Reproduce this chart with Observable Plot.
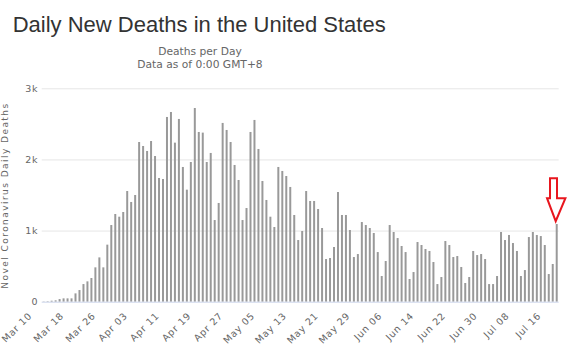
<!DOCTYPE html>
<html><head><meta charset="utf-8">
<script src="https://cdn.jsdelivr.net/npm/d3@7"></script>
<script src="https://cdn.jsdelivr.net/npm/@observablehq/plot@0.6"></script>
<style>
html,body{margin:0;padding:0;background:#fff;}
#wrap{width:568px;height:356px;overflow:hidden;position:relative;}
#head{position:relative;height:75px;}
#title{position:absolute;left:12.7px;top:11.7px;font-family:"Liberation Sans",Arial,sans-serif;font-size:22px;line-height:26px;color:#333333;white-space:nowrap;}
#sub{position:absolute;left:0;width:400px;top:44.6px;text-align:center;font-family:"DejaVu Sans",sans-serif;font-size:10.7px;line-height:13.3px;color:#666666;}
svg{display:block;}
</style></head><body>
<div id="wrap"><div id="head"><div id="title"></div><div id="sub"></div></div><div id="chart"></div></div>
<script>
const titleText = "Daily New Deaths in the United States";
const subtitleLines = ["Deaths per Day", "Data as of 0:00 GMT+8"];
const yTitle = "Novel Coronavirus Daily Deaths";
const startDate = "2020-03-10";
const deaths = [
  4, 7,
  14, 19, 37, 47, 47, 47, 117, 164, 248, 286, 333, 483, 623, 483, 802, 1078, 1233, 1195, 1261, 1556, 1402, 1500,
  2245, 2189, 2119, 2259, 2048, 1739, 1725, 2597, 2667, 2236, 2569, 1894, 1575, 1964, 2723,
  2386, 2377, 1964, 2091, 1148, 1388, 2513, 2414, 2245, 1922, 1711, 1148, 1317, 2386, 2555, 2147, 1697, 1430,
  1195, 1050, 1894, 1838, 1767, 1613, 1219, 867, 994, 1556, 1416, 1416, 1303, 1036, 600, 614, 769, 1542, 1219,
  1219, 1008, 628, 670, 1120, 1078, 1036, 966, 698,
  361, 572, 1078, 980, 895, 783, 698, 319, 417, 839, 797, 741, 713, 558, 248, 347, 853, 797, 628, 642, 488,
  263, 347, 713, 656, 670, 600, 248, 248, 361, 980, 867, 938, 825, 713, 361, 445, 909, 980, 938, 923, 797,
  389, 530, 1092
];
const tickLabels = ["Mar 10", "Mar 18", "Mar 26", "Apr 03", "Apr 11", "Apr 19", "Apr 27", "May 05", "May 13",
  "May 21", "May 29", "Jun 06", "Jun 14", "Jun 22", "Jun 30", "Jul 08", "Jul 16"];
const yTicks = [0, 1000, 2000, 3000];
const yTickLabels = ["0", "1k", "2k", "3k"];

document.getElementById("title").textContent = titleText;
document.getElementById("sub").innerHTML = subtitleLines.map(s => `<div>${s}</div>`).join("");

const fmt = d3.utcFormat("%b %d");
const start = new Date(startDate + "T00:00:00Z");
const days = deaths.map((_, i) => fmt(d3.utcDay.offset(start, i)));
const data = days.map((day, i) => ({day, deaths: deaths[i]}));
const last = data[data.length - 1];

const arrowSymbol = {
  draw(ctx) {
    ctx.moveTo(-5.7, -43);
    ctx.lineTo(1.3, -43);
    ctx.lineTo(1.3, -23);
    ctx.lineTo(9.7, -23);
    ctx.lineTo(0, 0);
    ctx.lineTo(-8.7, -23);
    ctx.lineTo(-5.7, -23);
    ctx.closePath();
  }
};

const chart = Plot.plot({
  width: 568,
  height: 281,
  marginTop: 13.3,
  marginBottom: 54.3,
  marginLeft: 41.7,
  marginRight: 9.3,
  style: {fontFamily: "DejaVu Sans", fontSize: "9.5px", letterSpacing: "0.8px", color: "#666666", background: "white", overflow: "visible"},
  x: {type: "band", domain: days, paddingInner: 0.5, paddingOuter: 0.25},
  y: {domain: [0, 3000]},
  marks: [
    Plot.ruleY(yTicks.slice(1), {stroke: "#e6e6e6", strokeWidth: 1}),
    Plot.barY(data, {x: "day", y: "deaths", fill: "#999999"}),
    Plot.ruleY([0], {stroke: "#ccd6eb", strokeWidth: 1}),
    Plot.axisY({ticks: yTicks, tickFormat: d => yTickLabels[yTicks.indexOf(d)], tickSize: 0, tickPadding: 3.8, label: null}),
    Plot.axisX({ticks: tickLabels, tickRotate: -45, tickSize: 0, tickPadding: 12, dx: -13.8, label: null}),
    Plot.text([yTitle], {frameAnchor: "left", text: d => d, rotate: -90, dx: -37.2, textAnchor: "middle", lineAnchor: "middle", fill: "#666666", fontSize: 9}),
    Plot.dot([last], {x: "day", y: "deaths", symbol: arrowSymbol, r: 10, stroke: "#e8161e", strokeWidth: 2, fill: "white", dx: -1.5, dy: -3.3})
  ]
});
d3.select(chart).selectAll('g[aria-label="text"] text').attr("letter-spacing", "1.45px");
document.getElementById("chart").appendChild(chart);
</script>
</body></html>
